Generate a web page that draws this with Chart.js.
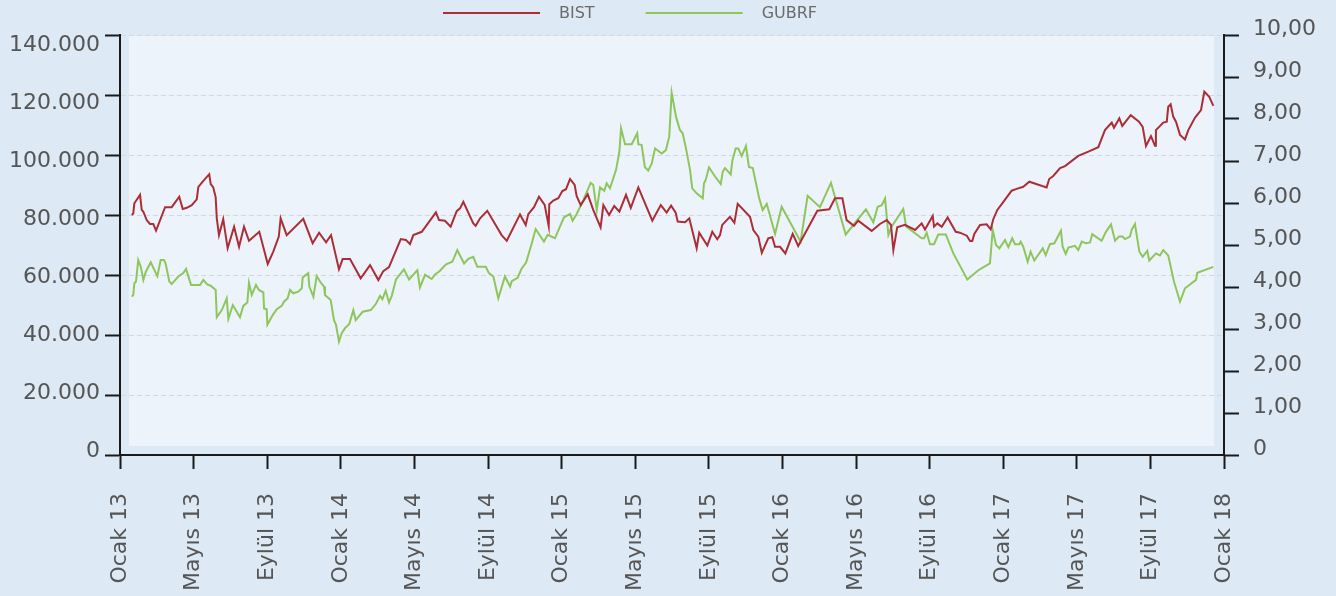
<!DOCTYPE html>
<html>
<head>
<meta charset="utf-8">
<script src="https://cdn.jsdelivr.net/npm/chart.js@4/dist/chart.umd.min.js"></script>
<style>
  html, body { margin: 0; padding: 0; background: #dde9f4; }
  #wrap { width: 1336px; height: 596px; }
</style>
</head>
<body>
<div id="wrap"><canvas id="chart" width="1336" height="596"></canvas></div>
<script>
// x values are months since Ocak 2013
const tickLabels = ['Ocak 13', 'Mayıs 13', 'Eylül 13', 'Ocak 14', 'Mayıs 14', 'Eylül 14',
  'Ocak 15', 'Mayıs 15', 'Eylül 15', 'Ocak 16', 'Mayıs 16', 'Eylül 16',
  'Ocak 17', 'Mayıs 17', 'Eylül 17', 'Ocak 18'];
const bistTicks = [0, 20000, 40000, 60000, 80000, 100000, 120000, 140000];

const bistMonths = [0.64, 0.72, 0.78, 1.09, 1.18, 1.27, 1.45, 1.63, 1.81, 1.96, 2.45, 2.81, 3.22, 3.41, 3.63, 3.90,
  4.17, 4.26, 4.53, 4.85, 4.93, 5.07, 5.20, 5.26, 5.38, 5.61, 5.85, 6.20, 6.47, 6.74, 7.01, 7.57,
  8.03, 8.33, 8.63, 8.73, 9.06, 9.96, 10.47, 10.82, 11.20, 11.47, 11.90, 12.10, 12.50, 13.08, 13.59, 14.04,
  14.31, 14.62, 15.26, 15.54, 15.76, 15.94, 16.40, 17.17, 17.34, 17.66, 17.97, 18.30, 18.48, 18.66, 19.20, 19.33,
  19.57, 19.96, 20.74, 21.02, 21.74, 22.05, 22.19, 22.50, 22.77, 23.08, 23.30, 23.33, 23.55, 23.82, 24.04, 24.24,
  24.46, 24.71, 24.82, 25.04, 25.42, 25.72, 26.12, 26.27, 26.58, 26.86, 27.14, 27.50, 27.76, 28.17, 28.93, 29.39,
  29.71, 29.95, 30.20, 30.31, 30.71, 30.94, 31.34, 31.48, 31.92, 32.19, 32.46, 32.61, 32.73, 33.15, 33.39, 33.57,
  34.24, 34.42, 34.69, 34.88, 35.23, 35.45, 35.60, 35.87, 36.16, 36.56, 36.86, 37.90, 38.55, 38.86, 39.26, 39.49,
  39.89, 40.12, 40.85, 41.30, 41.67, 41.90, 42.03, 42.24, 42.66, 43.21, 43.57, 43.75, 44.17, 44.24, 44.42, 44.66,
  44.98, 45.42, 45.65, 46.02, 46.20, 46.32, 46.43, 46.74, 47.10, 47.32, 47.46, 47.68, 48.01, 48.46, 48.73, 49.09,
  49.42, 50.36, 50.50, 50.72, 51.09, 51.36, 52.08, 52.63, 53.17, 53.53, 53.90, 54.02, 54.31, 54.47, 54.93, 55.38,
  55.58, 55.76, 56.03, 56.25, 56.30, 56.70, 56.89, 56.97, 57.10, 57.24, 57.39, 57.61, 57.88, 58.06, 58.42, 58.75,
  58.93, 59.20, 59.42];
const bistValues = [80000, 80500, 83900, 86700, 81700, 81100, 78300, 77000, 77000, 74800, 82600, 82600, 86100, 82000, 82400, 83300,
  85200, 89400, 91400, 93600, 90300, 89200, 85900, 78900, 73300, 78600, 68900, 76100, 69400, 76100, 71400, 74400,
  63700, 67800, 72800, 78900, 73300, 78700, 70600, 74100, 70900, 73300, 61900, 65300, 65300, 58900, 63300, 58300,
  61300, 62600, 72000, 71700, 70300, 73300, 74400, 80900, 78300, 78100, 76100, 81300, 82200, 84400, 77200, 76400,
  78900, 81400, 73300, 71400, 80200, 76700, 80300, 82600, 86100, 83400, 76300, 83600, 84800, 85600, 88000, 88600,
  92000, 90000, 86300, 83300, 86900, 81700, 75900, 83300, 80000, 83000, 81100, 86700, 82400, 89200, 78100, 83300,
  80800, 83100, 80800, 77800, 77600, 78900, 68900, 74100, 69800, 74400, 71900, 73300, 76700, 79400, 77400, 83700,
  79400, 75000, 72800, 67400, 72200, 72600, 69400, 69400, 67200, 73700, 69700, 81400, 81900, 85600, 85600, 78300,
  76400, 78100, 74700, 77000, 78300, 76700, 68300, 75900, 76700, 75000, 77200, 75200, 79700, 76100, 77200, 76100,
  79200, 74400, 74100, 73100, 71300, 71300, 73700, 76700, 76900, 75200, 78600, 81700, 84400, 88100, 88700, 89400,
  91100, 89200, 92000, 93000, 95600, 96300, 99700, 101100, 102600, 108300, 110800, 109100, 112200, 109700, 113300, 111100,
  109400, 103000, 106300, 103100, 108300, 110800, 111100, 116100, 116900, 112800, 111100, 106700, 105200, 108300, 112400, 115000,
  121100, 119400, 116400];

const gubrfMonths = [0.64, 0.72, 0.78, 0.87, 0.99, 1.13, 1.27, 1.41, 1.67, 2.03, 2.21, 2.39, 2.48, 2.68, 2.81, 3.17,
  3.44, 3.59, 3.86, 4.35, 4.53, 4.74, 4.93, 5.20, 5.26, 5.53, 5.80, 5.89, 6.13, 6.52, 6.70, 6.92,
  7.01, 7.16, 7.39, 7.55, 7.79, 7.83, 7.97, 8.01, 8.30, 8.52, 8.79, 8.91, 9.11, 9.24, 9.42, 9.69,
  9.88, 9.93, 10.23, 10.29, 10.51, 10.69, 10.87, 11.09, 11.14, 11.45, 11.63, 11.74, 11.90, 12.05, 12.23, 12.46,
  12.68, 12.81, 13.19, 13.63, 13.91, 14.13, 14.26, 14.44, 14.62, 14.77, 15.00, 15.43, 15.71, 16.16, 16.30, 16.58,
  16.94, 17.12, 17.35, 17.72, 18.06, 18.33, 18.70, 18.93, 19.20, 19.42, 19.88, 20.05, 20.29, 20.56, 20.92, 21.20,
  21.29, 21.61, 21.83, 22.07, 22.38, 22.59, 23.04, 23.24, 23.64, 23.91, 24.13, 24.46, 24.60, 24.82, 25.18, 25.58,
  25.72, 25.91, 26.09, 26.32, 26.45, 26.63, 26.96, 27.14, 27.23, 27.45, 27.81, 28.11, 28.17, 28.35, 28.53, 28.71,
  28.90, 29.08, 29.44, 29.67, 29.85, 29.98, 30.22, 30.43, 30.58, 30.76, 30.98, 31.10, 31.34, 31.67, 31.74, 31.83,
  32.01, 32.34, 32.65, 32.76, 32.88, 33.19, 33.28, 33.46, 33.60, 33.79, 34.02, 34.18, 34.39, 34.74, 34.93, 35.15,
  35.60, 35.96, 36.41, 36.99, 37.37, 38.04, 38.64, 39.44, 40.54, 40.94, 41.18, 41.40, 41.58, 41.76, 41.94, 42.57,
  42.72, 43.57, 43.70, 43.84, 44.02, 44.24, 44.47, 44.88, 45.29, 46.05, 46.65, 47.28, 47.43, 47.61, 47.79, 48.10,
  48.28, 48.49, 48.64, 48.88, 48.95, 49.09, 49.33, 49.49, 49.69, 50.15, 50.31, 50.54, 50.78, 51.14, 51.23, 51.40,
  51.54, 51.90, 52.08, 52.27, 52.50, 52.72, 52.84, 53.35, 53.59, 53.86, 54.08, 54.29, 54.49, 54.62, 54.89, 54.98,
  55.16, 55.40, 55.58, 55.83, 55.94, 56.30, 56.52, 56.70, 56.97, 57.28, 57.61, 57.88, 58.48, 58.55, 59.42];
const gubrfValues = [3.77, 3.81, 4.09, 4.13, 4.64, 4.48, 4.17, 4.37, 4.59, 4.26, 4.64, 4.64, 4.56, 4.13, 4.07, 4.25,
  4.33, 4.43, 4.05, 4.05, 4.17, 4.06, 4.03, 3.93, 3.28, 3.45, 3.73, 3.24, 3.57, 3.28, 3.55, 3.63,
  4.10, 3.81, 4.05, 3.93, 3.87, 3.49, 3.47, 3.10, 3.33, 3.47, 3.55, 3.65, 3.73, 3.93, 3.85, 3.89,
  3.97, 4.23, 4.33, 4.01, 3.77, 4.26, 4.13, 4.01, 3.81, 3.69, 3.21, 3.10, 2.70, 2.90, 3.02, 3.12,
  3.45, 3.21, 3.41, 3.45, 3.60, 3.79, 3.71, 3.91, 3.63, 3.79, 4.18, 4.42, 4.18, 4.40, 3.99, 4.29,
  4.19, 4.30, 4.37, 4.54, 4.60, 4.88, 4.56, 4.67, 4.72, 4.48, 4.48, 4.33, 4.25, 3.73, 4.25, 4.01,
  4.14, 4.22, 4.44, 4.58, 5.04, 5.38, 5.08, 5.24, 5.16, 5.44, 5.66, 5.74, 5.58, 5.74, 6.07, 6.48,
  6.43, 5.83, 6.37, 6.29, 6.47, 6.35, 6.79, 7.22, 7.78, 7.40, 7.40, 7.66, 7.40, 7.38, 6.85, 6.77,
  6.94, 7.30, 7.18, 7.26, 7.58, 8.63, 8.05, 7.74, 7.66, 7.30, 6.79, 6.35, 6.23, 6.11, 6.47, 6.55,
  6.85, 6.63, 6.45, 6.75, 6.83, 6.68, 7.01, 7.30, 7.30, 7.12, 7.36, 6.86, 6.83, 6.11, 5.83, 5.98,
  5.26, 5.91, 5.55, 5.08, 6.17, 5.90, 6.48, 5.25, 5.85, 5.54, 5.91, 5.95, 6.11, 5.24, 5.44, 5.86,
  5.44, 5.16, 5.16, 5.29, 5.02, 5.02, 5.25, 5.25, 4.80, 4.18, 4.40, 4.56, 5.36, 5.00, 4.92, 5.12,
  4.95, 5.16, 5.02, 5.02, 5.08, 4.96, 4.60, 4.84, 4.63, 4.92, 4.76, 5.02, 5.04, 5.34, 4.96, 4.79,
  4.94, 4.98, 4.88, 5.08, 5.04, 5.06, 5.26, 5.10, 5.32, 5.49, 5.10, 5.20, 5.20, 5.14, 5.20, 5.36,
  5.50, 4.84, 4.72, 4.86, 4.63, 4.80, 4.75, 4.88, 4.75, 4.13, 3.65, 3.97, 4.17, 4.34, 4.48];

const FONT = 'DejaVu Sans';
const TEXT = '#555555';
const AXIS = '#1a1a1a';

function fmtThousands(v) {
  return String(Math.round(v)).replace(/\B(?=(\d{3})+(?!\d))/g, '.');
}

function toPoints(xs, ys) {
  return xs.map((x, i) => ({ x: x, y: ys[i] }));
}

// light inner panel behind the lines
const panel = {
  id: 'panel',
  beforeDraw(chart) {
    const a = chart.chartArea;
    const ctx = chart.ctx;
    ctx.save();
    ctx.fillStyle = '#edf3fa';
    ctx.fillRect(a.left + 9, a.top + 1, a.width - 19, a.height - 10);
    ctx.restore();
  }
};

// line + name legend at the top
const topLegend = {
  id: 'topLegend',
  afterDraw(chart) {
    const ctx = chart.ctx;
    let x = 443;
    const y = 13;
    ctx.save();
    ctx.font = '16px "' + FONT + '"';
    ctx.textBaseline = 'middle';
    chart.data.datasets.forEach(ds => {
      ctx.fillStyle = ds.borderColor;
      ctx.fillRect(x, y - 1, 97, 2);
      x += 97 + 19;
      ctx.fillStyle = '#6b6b6b';
      ctx.fillText(ds.label, x, y + 1);
      x += ctx.measureText(ds.label).width + 51;
    });
    ctx.restore();
  }
};

new Chart(document.getElementById('chart'), {
  type: 'line',
  data: {
    datasets: [
      {
        label: 'BIST',
        data: toPoints(bistMonths, bistValues),
        yAxisID: 'y',
        borderColor: '#ab2e37',
        borderWidth: 2,
        pointRadius: 0,
        tension: 0
      },
      {
        label: 'GUBRF',
        data: toPoints(gubrfMonths, gubrfValues),
        yAxisID: 'y1',
        borderColor: '#8dc65c',
        borderWidth: 2,
        pointRadius: 0,
        tension: 0
      }
    ]
  },
  options: {
    responsive: false,
    animation: false,
    layout: { padding: { top: 35, left: 0, right: 0, bottom: 0 } },
    plugins: {
      legend: { display: false },
      tooltip: { enabled: false }
    },
    scales: {
      x: {
        type: 'linear',
        min: 0,
        max: 60,
        afterFit: (s) => { s.height = 141; },
        border: { color: AXIS, width: 2 },
        grid: { drawOnChartArea: false, tickLength: 14, tickColor: AXIS, tickWidth: 2 },
        ticks: {
          stepSize: 4,
          autoSkip: false,
          maxRotation: 90,
          minRotation: 90,
          padding: 24,
          color: TEXT,
          font: { family: FONT, size: 22 },
          callback: (v) => tickLabels[v / 4]
        }
      },
      y: {
        position: 'left',
        min: 0,
        max: 140000,
        afterFit: (s) => { s.width = 20; },
        border: { color: AXIS, width: 2, dash: [5, 3] },
        grid: {
          color: (c) => c.tick && c.tick.value === 0 ? 'rgba(0,0,0,0)' : '#d2d8e1',
          lineWidth: 1,
          tickLength: 15,
          tickColor: AXIS,
          tickWidth: 2,
          tickBorderDash: []
        },
        ticks: { stepSize: 20000, display: false }
      },
      // label-only axis: the original spreads its left labels slightly tighter than its ticks
      yLabels: {
        position: 'left',
        weight: 1,
        min: -1381,
        max: 143625,
        afterFit: (s) => { s.width = 100; },
        afterBuildTicks: (s) => { s.ticks = bistTicks.map(v => ({ value: v })); },
        border: { display: false },
        grid: { display: false, drawTicks: false },
        ticks: {
          padding: 0,
          color: TEXT,
          font: { family: FONT, size: 22 },
          callback: (v) => fmtThousands(v)
        }
      },
      y1: {
        position: 'right',
        min: 0,
        max: 10,
        afterFit: (s) => { s.width = 112; },
        border: { color: AXIS, width: 2 },
        grid: { drawOnChartArea: false, tickLength: 15, tickColor: AXIS, tickWidth: 2 },
        ticks: {
          stepSize: 1,
          padding: 14,
          labelOffset: -6,
          color: TEXT,
          font: { family: FONT, size: 22 },
          callback: (v) => v === 0 ? '0' : v.toFixed(2).replace('.', ',')
        }
      }
    }
  },
  plugins: [panel, topLegend]
});
</script>
</body>
</html>
